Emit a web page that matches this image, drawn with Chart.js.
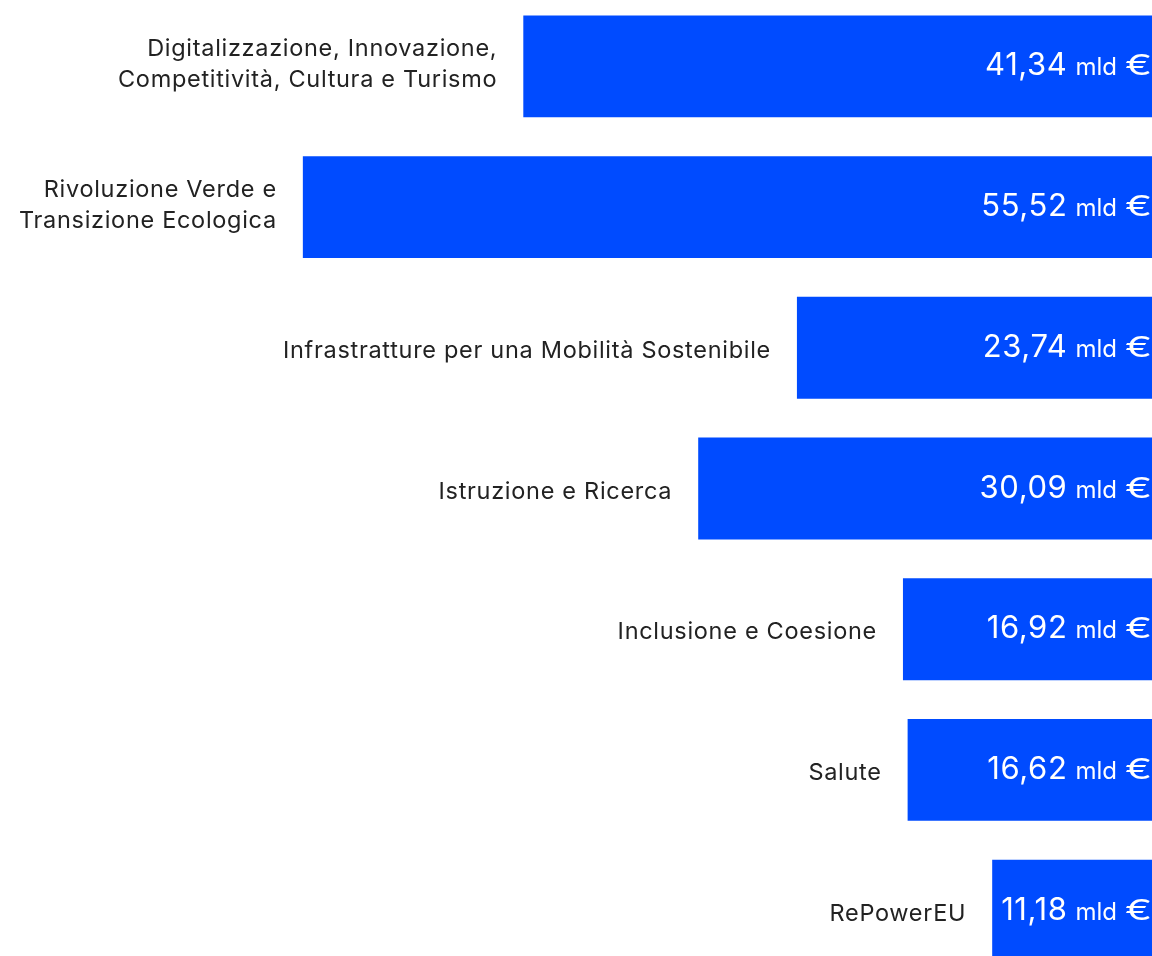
<!DOCTYPE html>
<html lang="it">
<head>
<meta charset="utf-8">
<title>Missioni PNRR</title>
<script src="https://cdn.jsdelivr.net/npm/chart.js@4.4.1/dist/chart.umd.min.js"></script>
<style>
  html, body { margin: 0; padding: 0; background: #fff; overflow: hidden; }
  #wrap { position: absolute; left: 0; top: -4px; width: 1166px; height: 985px; }
</style>
</head>
<body>
<div id="wrap"><canvas id="chartMissioni"></canvas></div>
<script>
// missioni e importi (miliardi di euro)
const missioni = [
  ['Digitalizzazione, Innovazione,', 'Competitività, Cultura e Turismo'],
  ['Rivoluzione Verde e', 'Transizione Ecologica'],
  'Infrastratture per una Mobilità Sostenibile',
  'Istruzione e Ricerca',
  'Inclusione e Coesione',
  'Salute',
  'RePowerEU'
];
const importi = [41.34, 55.52, 23.74, 30.09, 16.92, 16.62, 11.18];
const unita = 'mld';
const valuta = '€';

const BLU = '#004bff';
const FONT = 'Inter, "Open Sans", sans-serif';

function formatta(v) {
  return v.toFixed(2).replace('.', ',');
}

// etichette a sinistra della barra e importo dentro la barra
const etichettePlugin = {
  id: 'etichette',
  afterDatasetsDraw(chart) {
    const ctx = chart.ctx;
    const meta = chart.getDatasetMeta(0);
    ctx.save();
    meta.data.forEach((bar, i) => {
      const y = bar.y;
      // nome missione
      let righe = chart.data.labels[i];
      if (!Array.isArray(righe)) righe = [righe];
      ctx.font = '400 23.5px ' + FONT;
      ctx.letterSpacing = '0.7px';
      ctx.fillStyle = '#222222';
      ctx.textAlign = 'right';
      ctx.textBaseline = 'middle';
      const lh = 31;
      const off = righe.length > 1 ? -2 : 3;
      const y0 = y - (righe.length - 1) * lh / 2 + off;
      righe.forEach((r, k) => ctx.fillText(r, bar.x - 26, y0 + k * lh));

      // importo: numero, "mld" e simbolo euro allargato
      let xr = bar.base - 14;
      const base = y + 9;
      ctx.fillStyle = '#ffffff';
      ctx.textBaseline = 'alphabetic';
      ctx.letterSpacing = '0px';
      ctx.font = '400 28px ' + FONT;
      const wE = ctx.measureText(valuta).width * 1.45;
      ctx.save();
      ctx.translate(xr, base);
      ctx.scale(1.45, 1);
      ctx.fillText(valuta, 0, 0);
      ctx.restore();
      xr -= wE + 8;
      ctx.font = '400 24px ' + FONT;
      ctx.fillText(unita, xr, base);
      xr -= ctx.measureText(unita).width + 8;
      ctx.font = '400 31px ' + FONT;
      ctx.letterSpacing = '0.6px';
      ctx.fillText(formatta(chart.data.datasets[0].data[i]), xr, base);
    });
    ctx.restore();
  }
};

function initChartMissioni() {
  const ctx = document.getElementById('chartMissioni').getContext('2d');
  new Chart(ctx, {
    type: 'bar',
    data: {
      labels: missioni,
      datasets: [{
        data: importi,
        backgroundColor: BLU,
        borderWidth: 0,
        barPercentage: 0.724,
        categoryPercentage: 1
      }]
    },
    options: {
      indexAxis: 'y',
      responsive: true,
      maintainAspectRatio: false,
      animation: false,
      layout: { padding: 0 },
      plugins: {
        legend: { display: false },
        tooltip: { enabled: false }
      },
      scales: {
        x: {
          reverse: true,
          min: 0,
          max: 75,
          display: false
        },
        y: {
          display: false
        }
      }
    },
    plugins: [etichettePlugin]
  });
}

window.addEventListener('DOMContentLoaded', initChartMissioni);
</script>
</body>
</html>
